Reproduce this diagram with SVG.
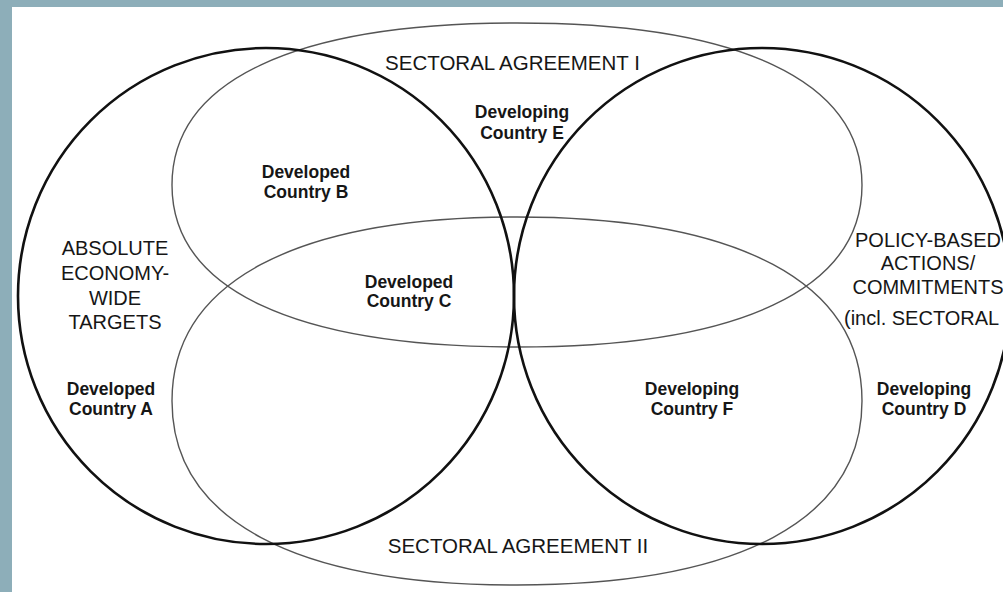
<svg xmlns="http://www.w3.org/2000/svg" width="1003" height="592" viewBox="0 0 1003 592">
<style>
.bg{fill:#8daeb9}
.paper{fill:#ffffff}
.thick{fill:none;stroke:#111;stroke-width:2.6}
.thin{fill:none;stroke:#555;stroke-width:1.4}
.cap{font-family:"Liberation Sans",Arial,sans-serif;font-size:20px;fill:#161616;text-anchor:middle}
.cty{font-family:"Liberation Sans",Arial,sans-serif;font-size:17.5px;font-weight:bold;fill:#161616;text-anchor:middle}
</style>
<rect class="bg" x="0" y="0" width="1003" height="592"/>
<rect class="paper" x="12" y="7" width="991" height="585"/>
<g id="sectoral-agreement-1">
<path class="thin" d="M172 185 C172 80.5 294.5 23 517 23 C739.5 23 862 80.5 862 185 C862 289.5 739.5 347 517 347 C294.5 347 172 289.5 172 185 Z"/>
<text class="cap" x="512.5" y="70" style="font-size:20.5px">SECTORAL AGREEMENT I</text>
</g>
<g id="sectoral-agreement-2">
<path class="thin" d="M172 401 C172 282.3 294.5 217 517 217 C739.5 217 862 282.3 862 401 C862 519.7 739.5 585 517 585 C294.5 585 172 519.7 172 401 Z"/>
<text class="cap" x="518" y="553" style="font-size:20.5px">SECTORAL AGREEMENT II</text>
</g>
<g id="absolute-targets">
<circle class="thick" cx="266" cy="296" r="248"/>
<text class="cap" x="115" y="255">ABSOLUTE</text>
<text class="cap" x="115" y="280">ECONOMY-</text>
<text class="cap" x="115" y="305">WIDE</text>
<text class="cap" x="115" y="329">TARGETS</text>
</g>
<g id="policy-based">
<circle class="thick" cx="762" cy="296" r="248"/>
<text class="cap" x="928" y="247">POLICY-BASED</text>
<text class="cap" x="928" y="270">ACTIONS/</text>
<text class="cap" x="928" y="294">COMMITMENTS</text>
<text class="cap" x="844" y="325" style="text-anchor:start">(incl. SECTORAL</text>
</g>
<g id="country-a"><text class="cty" x="111" y="395">Developed</text><text class="cty" x="111" y="415">Country A</text></g>
<g id="country-b"><text class="cty" x="306" y="178">Developed</text><text class="cty" x="306" y="198">Country B</text></g>
<g id="country-c"><text class="cty" x="409" y="288">Developed</text><text class="cty" x="409" y="307">Country C</text></g>
<g id="country-d"><text class="cty" x="924" y="395">Developing</text><text class="cty" x="924" y="415">Country D</text></g>
<g id="country-e"><text class="cty" x="522" y="118">Developing</text><text class="cty" x="522" y="139">Country E</text></g>
<g id="country-f"><text class="cty" x="692" y="395">Developing</text><text class="cty" x="692" y="415">Country F</text></g>
</svg>
